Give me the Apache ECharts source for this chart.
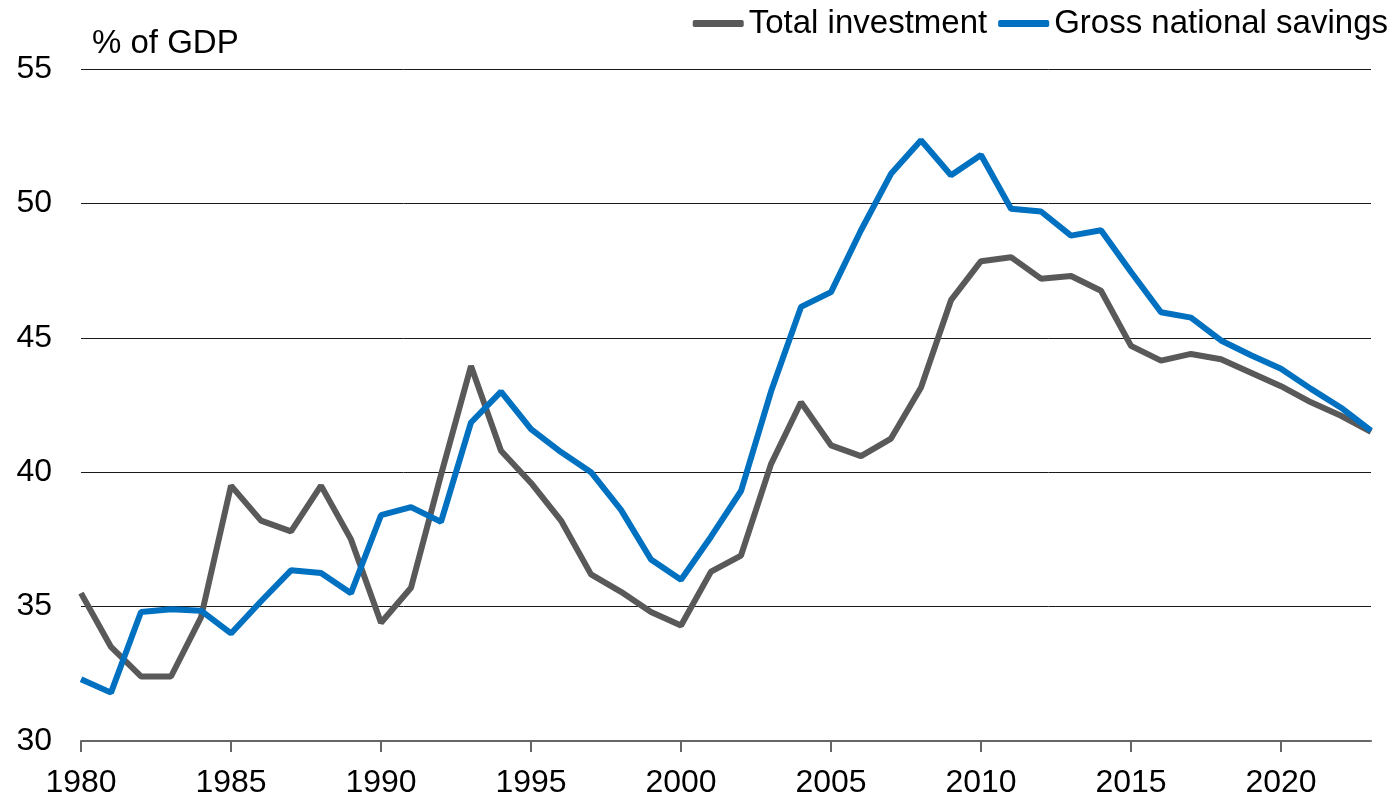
<!DOCTYPE html>
<html>
<head>
<meta charset="utf-8">
<script src="https://cdn.jsdelivr.net/npm/echarts@6/dist/echarts.min.js"></script>
<style>
  html, body { margin: 0; padding: 0; background: #fff; }
  #chart { width: 1398px; height: 800px; }
</style>
</head>
<body>
<div id="chart"></div>
<script>
// years on the x axis
var years = [];
for (var y = 1980; y <= 2023; y++) years.push(String(y));

// Total investment, % of GDP
var investment = [
    35.5, 33.5, 32.4, 32.4, 34.6, 39.5, 38.2, 37.8, 39.5, 37.5,
    34.4, 35.7, 39.9, 43.95, 40.8, 39.6, 38.2, 36.2, 35.55, 34.8,
    34.3, 36.3, 36.9, 40.3, 42.6, 41.0, 40.6, 41.25, 43.15, 46.4,
    47.85, 48.0, 47.2, 47.3, 46.75, 44.7, 44.15, 44.4, 44.2, 43.7,
    43.2, 42.6, 42.1, 41.5
];

// Gross national savings, % of GDP
var savings = [
    32.3, 31.8, 34.8, 34.9, 34.85, 34.0, 35.2, 36.35, 36.25, 35.5,
    38.4, 38.7, 38.15, 41.85, 43.0, 41.6, 40.75, 40.0, 38.6, 36.75,
    36.0, 37.6, 39.3, 43.0, 46.15, 46.7, 49.0, 51.1, 52.35, 51.05,
    51.8, 49.8, 49.7, 48.8, 49.0, 47.45, 45.95, 45.75, 44.9, 44.35,
    43.85, 43.1, 42.4, 41.55
];

var yTicks = [30, 35, 40, 45, 50, 55];

var font = 'Liberation Sans, Arial, sans-serif';
var everyFifth = function (i, v) { return Number(v) % 5 === 0; };

var dom = echarts.init(document.getElementById('chart'));

var option = {
    backgroundColor: '#ffffff',
    animation: false,
    textStyle: { fontFamily: font },
    title: {
        text: '% of GDP',
        left: 92,
        top: 27,
        padding: 0,
        textStyle: { fontFamily: font, fontSize: 33, fontWeight: 'normal', color: '#000' }
    },
    legend: {
        right: 10,
        top: 7,
        padding: 0,
        icon: 'roundRect',
        itemWidth: 51,
        itemHeight: 7,
        itemGap: 11,
        textStyle: { fontFamily: font, fontSize: 33, color: '#000' },
        data: ['Total investment', 'Gross national savings']
    },
    grid: { left: 81, right: 27, top: 69, bottom: 59, containLabel: false },
    xAxis: {
        type: 'category',
        data: years,
        boundaryGap: false,
        axisLine: { lineStyle: { color: '#666666', width: 2 } },
        axisTick: { show: true, interval: everyFifth, length: 11, lineStyle: { color: '#666666', width: 2 } },
        axisLabel: { interval: everyFifth, margin: 26, fontFamily: font, fontSize: 32, color: '#000' },
        splitLine: { show: false }
    },
    yAxis: {
        type: 'value',
        min: yTicks[0],
        max: yTicks[yTicks.length - 1],
        interval: 5,
        axisLine: { show: false },
        axisTick: { show: false },
        axisLabel: { margin: 29, fontFamily: font, fontSize: 32, color: '#000' },
        splitLine: { lineStyle: { color: '#1a1a1a', width: 1 } }
    },
    series: [{
        name: 'Total investment',
        type: 'line',
        data: investment,
        symbol: 'none',
        itemStyle: { color: '#595959' },
        lineStyle: { color: '#595959', width: 6 }
    }, {
        name: 'Gross national savings',
        type: 'line',
        data: savings,
        symbol: 'none',
        itemStyle: { color: '#0070C0' },
        lineStyle: { color: '#0070C0', width: 6 }
    }]
};

dom.setOption(option);
</script>
</body>
</html>
